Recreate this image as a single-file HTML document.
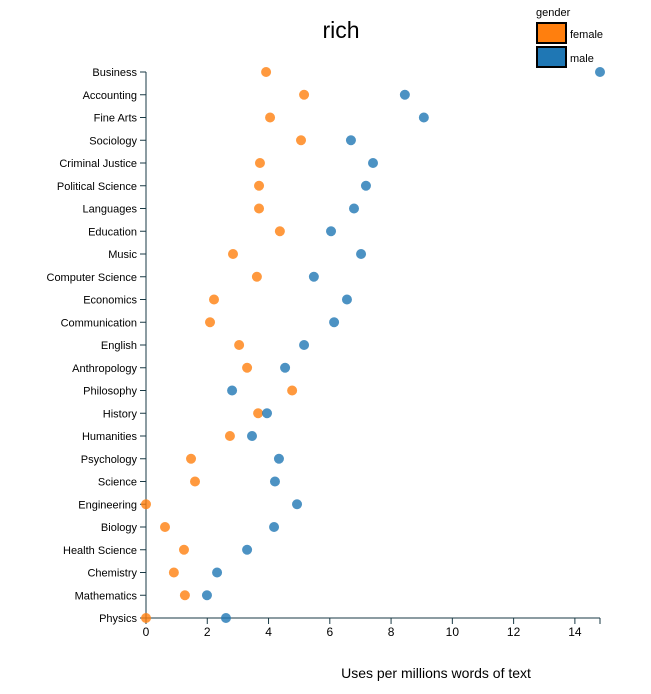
<!DOCTYPE html>
<html><head><meta charset="utf-8"><style>
body{margin:0;background:#fff;font-family:"Liberation Sans",Arial,sans-serif}
</style></head><body>
<svg id="chart" width="651" height="689" xmlns="http://www.w3.org/2000/svg" font-family="Liberation Sans, Arial, sans-serif">
<text x="341" y="38" font-size="23" text-anchor="middle">rich</text>
<text x="436" y="678" font-size="14" text-anchor="middle">Uses per millions words of text</text>
<g>
<text x="536" y="16" font-size="11">gender</text>
<rect x="537" y="23" width="29" height="20" fill="#ff7f0e" stroke="#000" stroke-width="2"/>
<text x="570" y="38" font-size="11">female</text>
<rect x="537" y="47" width="29" height="20" fill="#1f77b4" stroke="#000" stroke-width="2"/>
<text x="570" y="62" font-size="11">male</text>
</g>
<g id="plot"></g>
</svg>
<script>
const categories=["Business","Accounting","Fine Arts","Sociology","Criminal Justice","Political Science","Languages","Education","Music","Computer Science","Economics","Communication","English","Anthropology","Philosophy","History","Humanities","Psychology","Science","Engineering","Biology","Health Science","Chemistry","Mathematics","Physics"];
const femaleValues=[3.92,5.16,4.05,5.06,3.72,3.69,3.69,4.37,2.84,3.62,2.22,2.09,3.04,3.30,4.77,3.66,2.74,1.47,1.60,0,0.62,1.24,0.91,1.27,0];
const maleValues=[14.82,8.45,9.07,6.69,7.41,7.18,6.79,6.04,7.02,5.48,6.56,6.14,5.16,4.54,2.81,3.95,3.46,4.34,4.21,4.93,4.18,3.30,2.32,1.99,2.61];
const xTicks=[0,2,4,6,8,10,12,14];
const NS="http://www.w3.org/2000/svg";
const g=document.getElementById('plot');
const x0=146,x1=600,yTop=72,yBot=618;
const xMax=Math.max(...maleValues,...femaleValues);
const x=v=>x0+v/xMax*(x1-x0);
const y=i=>yTop+i*(yBot-yTop)/(categories.length-1);
function mk(t,a){const e=document.createElementNS(NS,t);for(const k in a)e.setAttribute(k,a[k]);g.appendChild(e);return e;}
let yl=mk('line',{x1:x0,x2:x0,y1:yTop,y2:yBot,stroke:'#1a3a45'});


let xl=mk('line',{x1:x0,x2:x1,y1:yBot,y2:yBot,stroke:'#1a3a45'});


let xe=mk('line',{x1:x1,x2:x1,y1:yBot,y2:yBot+6,stroke:'#1a3a45'});


xTicks.forEach(t=>{
 const l=mk('line',{x1:x(t),x2:x(t),y1:yBot,y2:yBot+6,stroke:'#1a3a45'});
 
 
 const tx=mk('text',{x:x(t),y:yBot+18,'font-size':12,'text-anchor':'middle'});
 tx.textContent=t;
 
 
});
categories.forEach((c,i)=>{
 const l=mk('line',{x1:x0-6,x2:x0,y1:y(i),y2:y(i),stroke:'#1a3a45'});
 
 
 const tx=mk('text',{x:x0-9,y:y(i)+4,'font-size':11,'text-anchor':'end'});
 tx.textContent=c;
 
 
});
categories.forEach((c,i)=>{
 const f=mk('circle',{cx:x(femaleValues[i]),cy:y(i),r:5,fill:'#ff7f0e','fill-opacity':0.8});
 
 
});
categories.forEach((c,i)=>{
 const m=mk('circle',{cx:x(maleValues[i]),cy:y(i),r:5,fill:'#1f77b4','fill-opacity':0.8});
 
 
});
</script>
</body></html>
